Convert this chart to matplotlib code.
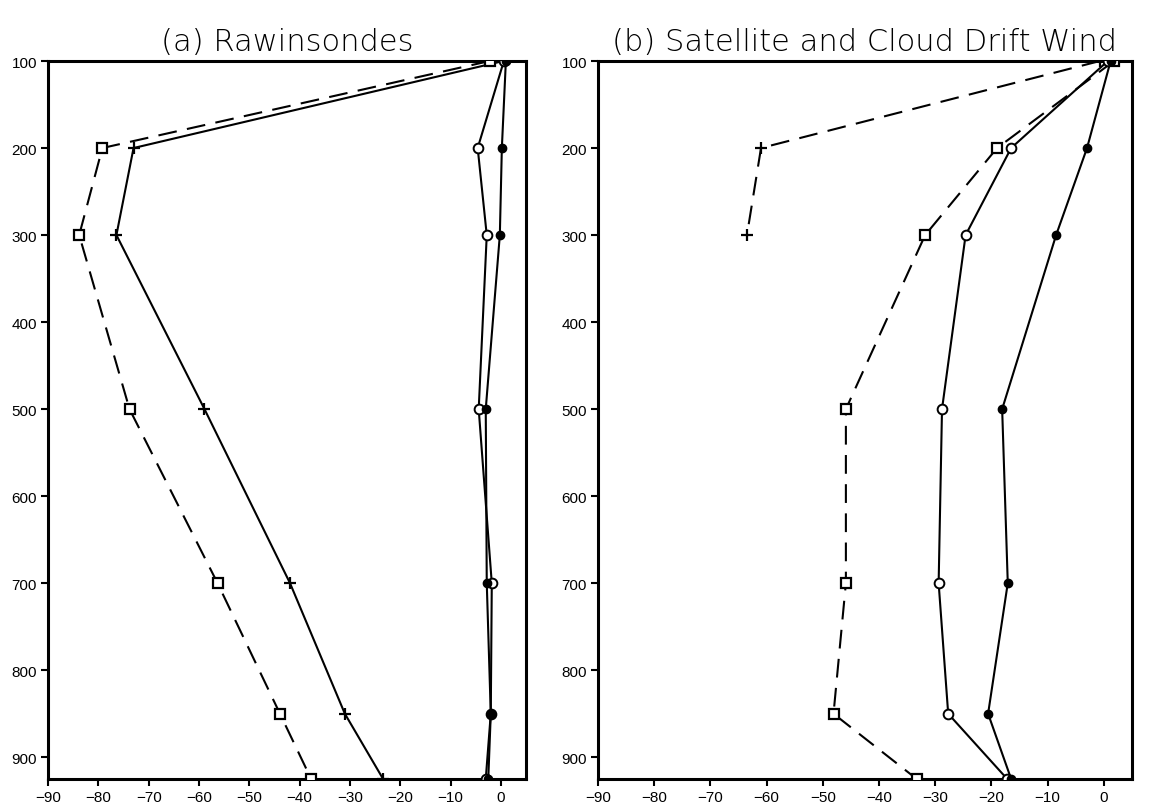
import matplotlib
matplotlib.use("Agg")
import matplotlib.pyplot as plt

levels = [100, 200, 300, 500, 700, 850, 925]
levels_b_plus = [100, 200, 300]

# Panel (a) Rawinsondes
a_plus = [0.5, -73.0, -76.4, -58.9, -41.9, -31.0, -23.4]
a_square = [-2.2, -79.2, -83.8, -73.8, -56.3, -43.9, -37.7]
a_open = [0.6, -4.6, -2.8, -4.4, -1.8, -2.0, -3.0]
a_filled = [1.0, 0.2, -0.2, -3.0, -2.8, -2.0, -2.5]

# Panel (b) Satellite and Cloud Drift Wind
b_plus = [-0.7, -61.0, -63.5]
b_square = [1.8, -19.0, -31.8, -45.9, -45.9, -48.1, -33.3]
b_open = [0.7, -16.5, -24.6, -28.8, -29.4, -27.7, -17.2]
b_filled = [1.2, -3.0, -8.5, -18.1, -17.1, -20.6, -16.5]

titles = ["(a) Rawinsondes", "(b) Satellite and Cloud Drift Wind"]
xticks = [-90, -80, -70, -60, -50, -40, -30, -20, -10, 0]
yticks = [100, 200, 300, 400, 500, 600, 700, 800, 900]

fig = plt.figure(figsize=(11.5, 8.04), dpi=100)
ax_a = fig.add_axes([48/1150, 1-780/804, 478/1150, 718/804])
ax_b = fig.add_axes([598/1150, 1-780/804, 534/1150, 718/804])

lw = 1.5
dash = (9, 5)

def square(ax, x, y):
    ax.plot(x, y, color='black', lw=lw, linestyle=(0, dash), marker='s',
            markersize=7, markerfacecolor='white', markeredgecolor='black',
            markeredgewidth=1.6, zorder=3)

def openc(ax, x, y):
    ax.plot(x, y, color='black', lw=lw, marker='o', markersize=7,
            markerfacecolor='white', markeredgecolor='black',
            markeredgewidth=1.4, zorder=3)

def filledc(ax, x, y):
    ax.plot(x, y, color='black', lw=lw, marker='o', markersize=6,
            markerfacecolor='black', markeredgecolor='black', zorder=3)

def plus(ax, x, y, ls):
    ax.plot(x, y, color='black', lw=lw, linestyle=ls, marker='+',
            markersize=9, markeredgewidth=1.6, zorder=3)

plus(ax_a, a_plus, levels, '-')
square(ax_a, a_square, levels)
openc(ax_a, a_open, levels)
filledc(ax_a, a_filled, levels)

plus(ax_b, b_plus, levels_b_plus, (0, dash))
square(ax_b, b_square, levels)
openc(ax_b, b_open, levels)
filledc(ax_b, b_filled, levels)

for ax, t in zip([ax_a, ax_b], titles):
    ax.set_xlim(-90, 5)
    ax.set_ylim(925, 100)
    ax.set_xticks(xticks)
    ax.set_yticks(yticks)
    ax.set_xticklabels([str(v).replace('-', '\u2212') for v in xticks])
    ax.tick_params(direction='out', length=5, width=1.5, labelsize=11,
                   pad=3)
    for lab in ax.get_xticklabels() + ax.get_yticklabels():
        lab.set_fontfamily('Liberation Sans')
    for s in ax.spines.values():
        s.set_linewidth(2.2)
    ax.set_title(t, fontsize=22, pad=8, fontfamily='DejaVu Sans',
                 fontweight='light')

fig.savefig("out.png", dpi=100)
